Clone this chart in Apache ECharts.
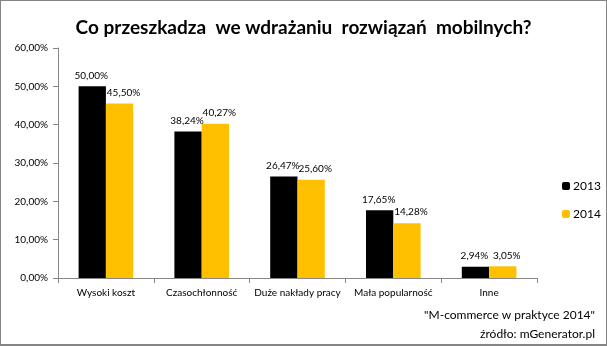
<!DOCTYPE html>
<html><head><meta charset="utf-8">
<script src="https://cdn.jsdelivr.net/npm/echarts@6/dist/echarts.min.js"></script>
<style>
html,body{margin:0;padding:0;background:#fff;}
#c{width:607px;height:346px;box-sizing:border-box;border:1px solid #858585;border-bottom-width:2px;}
</style></head>
<body><div id="c"></div>
<script>
const title = 'Co przeszkadza  we wdrażaniu  rozwiązań  mobilnych?';
const categories = ['Wysoki koszt', 'Czasochłonność', 'Duże nakłady pracy', 'Mała popularność', 'Inne'];
const series2013 = [50.00, 38.24, 26.47, 17.65, 2.94];
const series2014 = [45.50, 40.27, 25.60, 14.28, 3.05];
const seriesNames = ['2013', '2014'];
const sourceLines = ['"M-commerce w praktyce 2014"', 'źródło: mGenerator.pl'];

const fmt = v => v.toFixed(2).replace('.', ',') + '%';
const font = 'Lato, "Open Sans", sans-serif';
const chart = echarts.init(document.getElementById('c'));
chart.setOption({
  animation: false,
  textStyle: {fontFamily: font},
  title: {
    text: title, left: 'center', top: 12,
    textStyle: {fontFamily: font, fontSize: 19, fontWeight: 'bold', color: '#000'}
  },
  graphic: [{
    type: 'text', right: 11, top: 305,
    style: {text: sourceLines.join('\n'), fontFamily: font, fontSize: 12, lineHeight: 19, fill: '#000', textAlign: 'right'}
  }],
  legend: {
    orient: 'vertical', left: 556, top: 174, itemWidth: 8, itemHeight: 8, itemGap: 16,
    textStyle: {fontFamily: font, fontSize: 12, color: '#000', padding: [0, 0, 0, -2]},
    data: seriesNames
  },
  grid: {left: 57, right: 69, top: 47, bottom: 66, containLabel: false},
  xAxis: {
    type: 'category', data: categories,
    axisLine: {lineStyle: {color: '#868686'}},
    axisTick: {show: true, alignWithLabel: false, length: 5, lineStyle: {color: '#868686'}},
    axisLabel: {fontFamily: font, fontSize: 10, color: '#000', margin: 10, interval: 0}
  },
  yAxis: {
    type: 'value', min: 0, max: 60, interval: 10,
    splitLine: {show: false},
    axisLine: {show: true, lineStyle: {color: '#868686'}},
    axisTick: {show: true, length: 5, lineStyle: {color: '#868686'}},
    axisLabel: {fontFamily: font, fontSize: 10, color: '#000', margin: 10, formatter: v => v.toFixed(2).replace('.', ',') + '%'}
  },
  series: [
    {name: seriesNames[0], type: 'bar', data: series2013, barGap: '0%', barCategoryGap: '43%',
     itemStyle: {color: '#000000'},
     label: {show: true, position: 'top', distance: 6, offset: [-1, 0], fontFamily: font, fontSize: 10, color: '#000', formatter: p => fmt(p.value)}},
    {name: seriesNames[1], type: 'bar', data: series2014, barGap: '0%', barCategoryGap: '43%',
     itemStyle: {color: '#FFC000'},
     label: {show: true, position: 'top', distance: 6, offset: [4, 0], fontFamily: font, fontSize: 10, color: '#000', formatter: p => fmt(p.value)}}
  ]
});
</script></body></html>
